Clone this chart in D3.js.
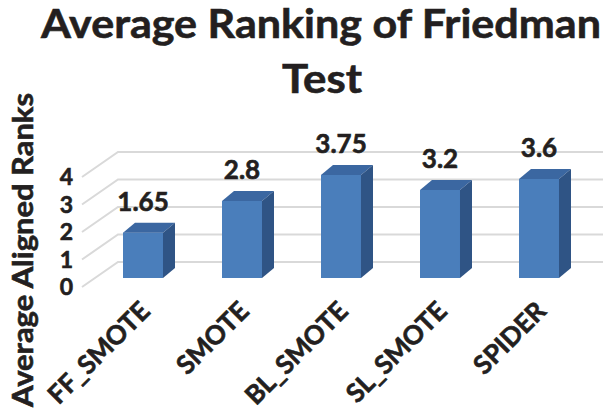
<!DOCTYPE html>
<html>
<head>
<meta charset="utf-8">
<script src="https://cdn.jsdelivr.net/npm/d3@7"></script>
<style>
  body { margin: 0; background: #fff; }
  text { font-family: Lato, "Open Sans", sans-serif; font-weight: bold; fill: #231f20; stroke: #231f20; stroke-width: 0.6px; }
</style>
</head>
<body>
<div id="viz"></div>
<script>
// chart data
var categories = ["FF_SMOTE", "SMOTE", "BL_SMOTE", "SL_SMOTE", "SPIDER"]
var rankValues = [1.65, 2.8, 3.75, 3.2, 3.6]
var tickValues = [0, 1, 2, 3, 4]
var titleLines = ["Average Ranking of Friedman", "Test"]
var yTitle = "Average Aligned Ranks"

var width = 603, height = 411

// 3d look: wall depth and bar depth offsets
var wall = { dx: 36, dy: -25 }
var barDepth = { dx: 12, dy: -10 }
var barShift = { dy: -9 }   // bars sit a bit inside the floor

var svg = d3.select("#viz")
  .append("svg")
  .attr("width", width)
  .attr("height", height)

// scales
var x = d3.scaleBand()
  .domain(categories)
  .range([93.5, 588.5])
  .paddingInner(0.596)
  .paddingOuter(0.298)

var yFront = d3.scaleLinear().domain([0, 4]).range([287, 177])

// gridlines: side wall diagonal + back wall horizontal
var grid = svg.append("g").attr("class", "grid")
grid.selectAll("path")
  .data(tickValues)
  .enter().append("path")
  .attr("d", function (d) {
    var y0 = yFront(d)
    return "M82," + y0 + "L" + (82 + wall.dx) + "," + (y0 + wall.dy) + "L" + width + "," + (y0 + wall.dy)
  })
  .style("fill", "none")
  .style("stroke", "#d9d9d9")
  .style("stroke-width", 2)

// tick labels
svg.append("g")
  .selectAll("text")
  .data(tickValues)
  .enter().append("text")
  .attr("x", 73)
  .attr("y", function (d) { return yFront(d) })
  .attr("dy", "0.36em")
  .attr("text-anchor", "end")
  .style("font-size", "23px")
  .text(function (d) { return d })

// bars
var bars = svg.append("g")
  .selectAll("g")
  .data(rankValues)
  .enter().append("g")
  .attr("transform", function (d, i) {
    return "translate(" + x(categories[i]) + "," + barShift.dy + ")"
  })

var bw = x.bandwidth()
var base = yFront(0)

// front face
bars.append("rect")
  .attr("x", 0)
  .attr("y", function (d) { return yFront(d) })
  .attr("width", bw)
  .attr("height", function (d) { return base - yFront(d) })
  .style("fill", "#4a7ebb")

// top face
bars.append("path")
  .attr("d", function (d) {
    var t = yFront(d)
    return "M0," + t + "L" + barDepth.dx + "," + (t + barDepth.dy) + "L" + (bw + barDepth.dx) + "," + (t + barDepth.dy) + "L" + bw + "," + t + "Z"
  })
  .style("fill", "#3b67a1")

// side face
bars.append("path")
  .attr("d", function (d) {
    var t = yFront(d)
    return "M" + bw + "," + t + "L" + (bw + barDepth.dx) + "," + (t + barDepth.dy) + "L" + (bw + barDepth.dx) + "," + (base + barDepth.dy) + "L" + bw + "," + base + "Z"
  })
  .style("fill", "#2f5485")

// value labels
bars.append("text")
  .attr("x", bw / 2)
  .attr("y", function (d) { return yFront(d) + barDepth.dy - 12 })
  .attr("text-anchor", "middle")
  .style("font-size", "26px")
  .text(function (d) { return d })

// category labels, rotated
svg.append("g")
  .selectAll("text")
  .data(categories)
  .enter().append("text")
  .attr("transform", function (d) {
    return "translate(" + (x(d) + bw / 2 + 2) + ",306) rotate(-45)"
  })
  .attr("text-anchor", "end")
  .attr("dy", "0.36em")
  .style("font-size", "26px")
  .text(function (d) { return d })

// title
svg.append("text")
  .attr("x", 321)
  .attr("y", 37.5)
  .attr("text-anchor", "middle")
  .attr("textLength", 560)
  .attr("lengthAdjust", "spacingAndGlyphs")
  .style("font-size", "40px")
  .text(titleLines[0])

svg.append("text")
  .attr("x", 322)
  .attr("y", 93)
  .attr("text-anchor", "middle")
  .attr("textLength", 80)
  .attr("lengthAdjust", "spacingAndGlyphs")
  .style("font-size", "40px")
  .text(titleLines[1])

// y axis title
svg.append("text")
  .attr("transform", "translate(33,250) rotate(-90)")
  .attr("text-anchor", "middle")
  .attr("textLength", 314)
  .attr("lengthAdjust", "spacingAndGlyphs")
  .style("font-size", "28px")
  .text(yTitle)
</script>
</body>
</html>
